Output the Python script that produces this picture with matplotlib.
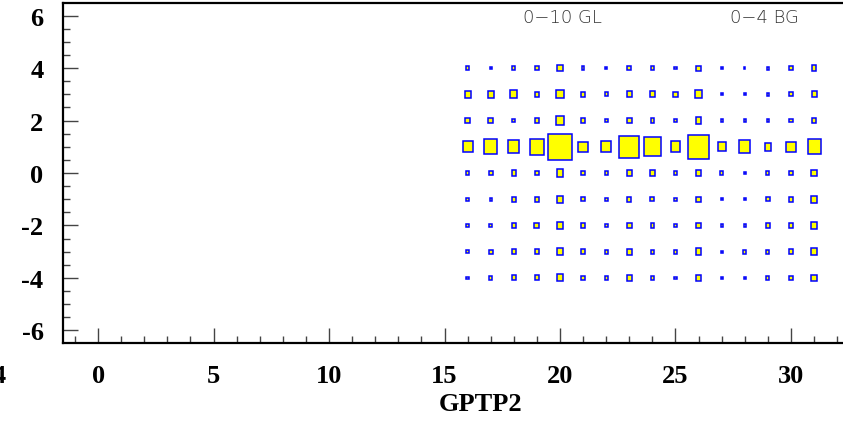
import matplotlib
matplotlib.use("Agg")
import matplotlib.pyplot as plt
from matplotlib.patches import Rectangle
from matplotlib.ticker import MultipleLocator

# column positions (GPTP2) and row positions
x_bins = list(range(16, 32))
y_bins = [4, 3, 2, 1, 0, -1, -2, -3, -4]

# relative box side (fraction of bin), one list per row
size_y4 = [0.12, 0.08, 0.13, 0.14, 0.22, 0.12, 0.08, 0.16, 0.12, 0.10, 0.19, 0.08, 0.06, 0.11, 0.14, 0.20]
size_y3 = [0.26, 0.26, 0.29, 0.17, 0.32, 0.20, 0.14, 0.22, 0.23, 0.19, 0.32, 0.08, 0.08, 0.11, 0.14, 0.22]
size_y2 = [0.22, 0.22, 0.14, 0.17, 0.32, 0.16, 0.12, 0.20, 0.16, 0.14, 0.25, 0.08, 0.08, 0.10, 0.14, 0.20]
size_y1 = [0.43, 0.58, 0.49, 0.62, 1.00, 0.40, 0.43, 0.85, 0.71, 0.43, 0.91, 0.35, 0.48, 0.29, 0.40, 0.56]
size_y0 = [0.14, 0.16, 0.20, 0.19, 0.27, 0.19, 0.13, 0.23, 0.23, 0.16, 0.25, 0.14, 0.08, 0.14, 0.19, 0.25]
size_ym1 = [0.10, 0.10, 0.20, 0.20, 0.25, 0.16, 0.12, 0.19, 0.17, 0.10, 0.20, 0.09, 0.08, 0.17, 0.19, 0.25]
size_ym2 = [0.13, 0.12, 0.20, 0.22, 0.25, 0.16, 0.12, 0.22, 0.16, 0.14, 0.20, 0.09, 0.08, 0.17, 0.19, 0.25]
size_ym3 = [0.10, 0.16, 0.19, 0.19, 0.27, 0.17, 0.14, 0.23, 0.16, 0.14, 0.25, 0.09, 0.14, 0.14, 0.19, 0.25]
size_ym4 = [0.10, 0.13, 0.19, 0.19, 0.27, 0.17, 0.12, 0.23, 0.16, 0.10, 0.25, 0.09, 0.08, 0.12, 0.14, 0.25]
rows = [size_y4, size_y3, size_y2, size_y1, size_y0, size_ym1, size_ym2, size_ym3, size_ym4]

x_ticks = [0, 5, 10, 15, 20, 25, 30]
y_ticks = [-6, -4, -2, 0, 2, 4, 6]

W, H = 843, 431
fig = plt.figure(figsize=(W / 100, H / 100), dpi=100)
ax = fig.add_axes([63 / W, (H - 344) / H, (845 - 63) / W, (344 - 4) / H])

for yc, sizes in zip(y_bins, rows):
    for xc, s in zip(x_bins, sizes):
        ax.add_patch(Rectangle((xc - s / 2, yc - s / 2), s, s,
                               facecolor="#ffff00", edgecolor="#0000ff", linewidth=1.1))

ax.set_xlim(-1.52, 32.34)
ax.set_ylim(-6.48, 6.48)

tick_font = dict(family="Liberation Serif", weight="bold", size=19)
ax.set_xticks(x_ticks)
ax.set_xticklabels([str(v) for v in x_ticks], **tick_font)
ax.set_yticks(y_ticks)
ax.set_yticklabels([str(v) for v in y_ticks], **tick_font)
ax.xaxis.set_minor_locator(MultipleLocator(1))
ax.yaxis.set_minor_locator(MultipleLocator(0.5))
ax.tick_params(which="both", direction="in", top=False, right=False, color="#444444", width=1)
ax.tick_params(which="major", length=11)
ax.tick_params(which="minor", length=5)
ax.tick_params(axis="x", which="major", pad=15)
ax.tick_params(axis="y", which="major", pad=14)

for side in ["left", "top", "bottom"]:
    ax.spines[side].set_linewidth(1.6)
ax.spines["right"].set_visible(False)

# stray label left of the frame, cut by the image edge as in the original
ax.annotate("-4", xy=(-4.0, 0), xycoords=("data", "axes fraction"),
            xytext=(0, -15), textcoords="offset points", ha="right", va="top",
            annotation_clip=False, **tick_font)

fig.text(481 / W, 1 - 405 / H, "GPTP2", ha="center", va="center",
         family="Liberation Serif", weight="bold", size=19)

ax.text(562 / W, 1 - 18 / H, "0\u221210 GL", transform=fig.transFigure,
        ha="center", va="center", size=13, color="#333333", weight="light")
ax.text(764 / W, 1 - 18 / H, "0\u22124 BG", transform=fig.transFigure,
        ha="center", va="center", size=13, color="#333333", weight="light")

fig.savefig("out.png", dpi=100)
